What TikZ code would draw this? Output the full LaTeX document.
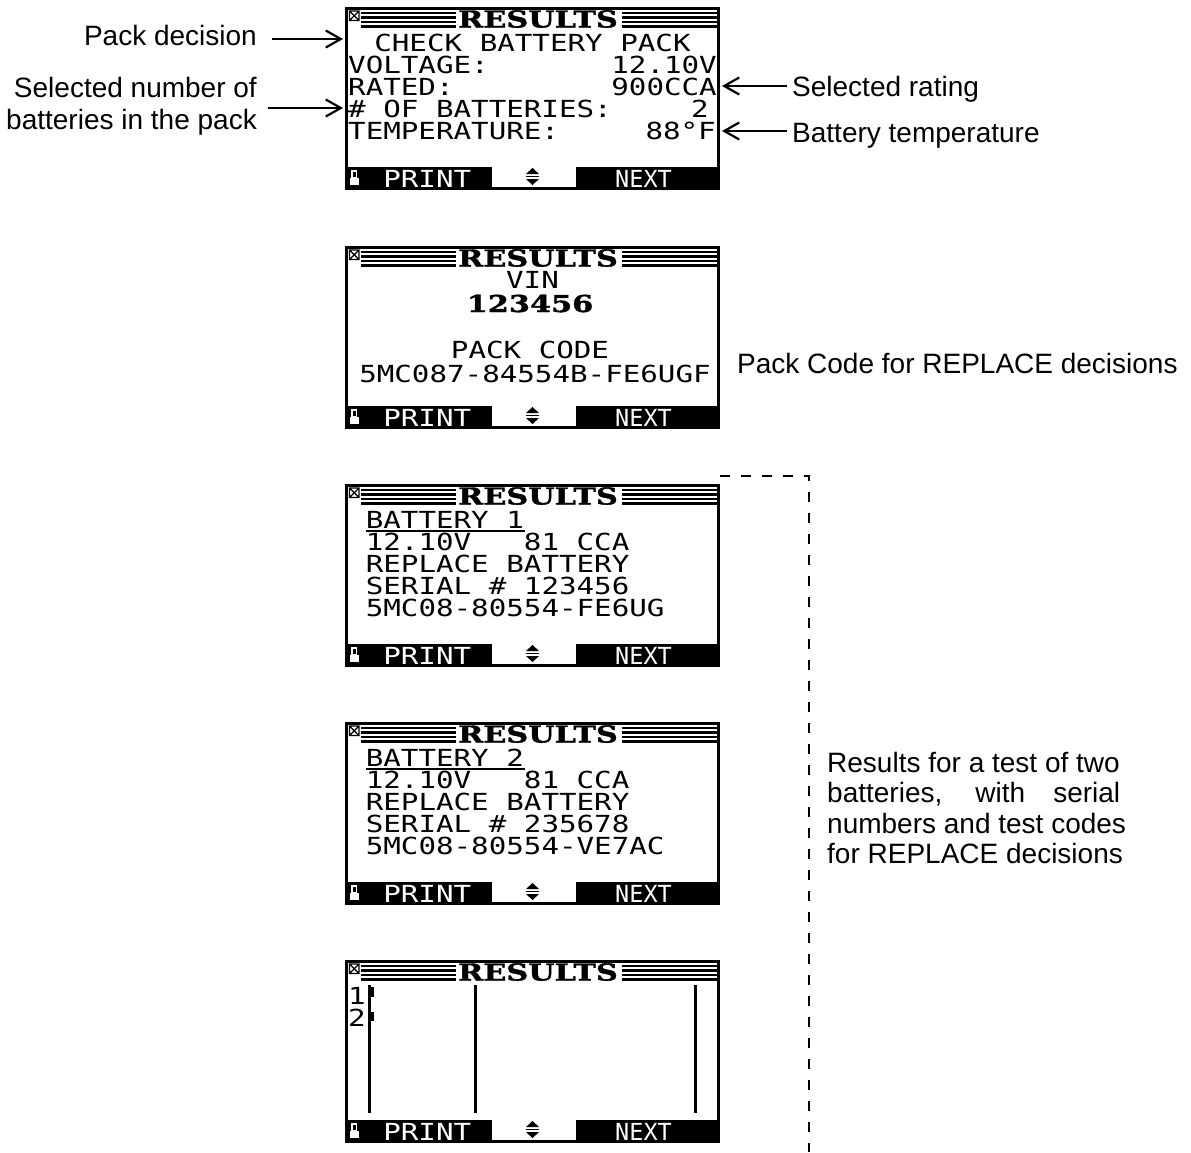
\documentclass[tikz,border=0pt]{standalone}
\usepackage{fontspec}
\setmainfont{Liberation Sans}
\newfontfamily\lcdfont[FakeStretch=1.242]{DejaVu Sans Mono}
\newfontfamily\lcdnarrow{DejaVu Sans Mono}
\newfontfamily\lcdbold[FakeStretch=1.30,FakeBold=1.6]{DejaVu Serif}
\usetikzlibrary{positioning, arrows.meta, calc}
\newcommand{\lcdtext}{\lcdfont\fontsize{23.5pt}{24pt}\selectfont}
\newcommand{\lcdkey}{\lcdnarrow\fontsize{23.5pt}{24pt}\selectfont}
\newcommand{\lcdbig}{\lcdbold\bfseries\fontsize{23.3pt}{24pt}\selectfont}
\tikzset{
    screen/.style={draw, line width=3pt, minimum width=372pt, minimum height=180pt, anchor=north west, inner sep=0pt},
    lcd/.style={font=\lcdtext, inner sep=0pt, anchor=base west},
    lcd right/.style={lcd, anchor=base east},
    lcd mid/.style={lcd, anchor=base},
    lcd title/.style={font=\lcdbig, inner sep=0pt, anchor=base},
    soft key/.style={lcd, text=white},
    stripe/.style={line width=2.4pt},
    callout text/.style={font=\fontsize{28pt}{32pt}\selectfont, inner sep=0pt},
    callout/.style={line width=2.2pt, -{Straight Barb[length=15pt, width=17pt, line width=2.2pt]}},
    bracket/.style={line width=2.5pt, dash pattern=on 10pt off 11pt}
}
\begin{document}
\begin{tikzpicture}[x=1pt, y=-1pt]
    \useasboundingbox (0,0) rectangle (1191,1152);

    % --- Screen frames, title bars and soft keys ---
    \foreach \s/\top in {1/7, 2/246, 3/484, 4/722, 5/960}{
        \node (scr\s) [screen] at (345,\top) {};
        \begin{scope}[shift={(scr\s.north west)}]
            \draw[line width=1.3pt] (4.5,4) rectangle (14,13.5) (4.5,4) -- (14,13.5) (4.5,13.5) -- (14,4);
            \foreach \y in {6,10.5,15,19.5}{
                \draw[stripe] (16,\y) -- (111,\y);
                \draw[stripe] (277,\y) -- (373,\y);
            }
            \node (res\s) [lcd title] at (193,20.5) {RESULTS};
            \fill (0,160) rectangle (147,183);
            \fill (231,160) rectangle (375,183);
            \draw[white, line width=1.4pt] (6.8,164) rectangle (11.2,170.5);
            \fill[white] (4.5,170.5) rectangle (13.5,177.5);
            \node (prt\s) [soft key] at (38.1,180) {PRINT};
            \node (nxt\s) [soft key, font=\lcdkey] at (270,180) {NEXT};
            \fill (181,167) -- (194,167) -- (187.5,161) -- cycle;
            \draw[line width=1.6pt] (181,169.5) -- (194,169.5);
            \fill (181,172) -- (194,172) -- (187.5,178) -- cycle;
        \end{scope}
    }

    % --- Screen 1: pack result ---
    \begin{scope}[shift={(scr1.north west)}]
        \node (chk) [lcd mid] at (187.5,44) {CHECK BATTERY PACK};
        \node (volt) [lcd] at (3,66) {VOLTAGE:};
        \node (voltv) [lcd right] at (372,66) {12.10V};
        \node (rated) [lcd] at (3,88) {RATED:};
        \node (ratedv) [lcd right] at (372,88) {900CCA};
        \node (nbatt) [lcd] at (3,110) {\# OF BATTERIES:};
        \node (nbattv) [lcd right] at (364,110) {2};
        \node (tmp) [lcd] at (3,132) {TEMPERATURE:};
        \node (tmpv) [lcd right] at (371,132) {88°F};
    \end{scope}

    % --- Screen 2: VIN and pack code ---
    \begin{scope}[shift={(scr2.north west)}]
        \node (vin) [lcd mid] at (187.5,42) {VIN};
        \node (vinv) [lcd title] at (185,66) {123456};
        \node (pcode) [lcd mid] at (185,112) {PACK CODE};
        \node (pcodev) [lcd mid] at (190,136) {5MC087-84554B-FE6UGF};
    \end{scope}

    % --- Screen 3: battery 1 ---
    \begin{scope}[shift={(scr3.north west)}]
        \node (bat1) [lcd] at (20.6,44) {BATTERY 1};
        \draw[line width=2pt] (20.6,46.5) -- (180,46.5);
        \node (bat1a) [lcd] at (20.6,66) {12.10V\ \ \ 81 CCA};
        \node (bat1b) [lcd] at (20.6,88) {REPLACE BATTERY};
        \node (bat1c) [lcd] at (20.6,110) {SERIAL \# 123456};
        \node (bat1d) [lcd] at (20.6,132) {5MC08-80554-FE6UG};
    \end{scope}

    % --- Screen 4: battery 2 ---
    \begin{scope}[shift={(scr4.north west)}]
        \node (bat2) [lcd] at (20.6,44) {BATTERY 2};
        \draw[line width=2pt] (20.6,46.5) -- (180,46.5);
        \node (bat2a) [lcd] at (20.6,66) {12.10V\ \ \ 81 CCA};
        \node (bat2b) [lcd] at (20.6,88) {REPLACE BATTERY};
        \node (bat2c) [lcd] at (20.6,110) {SERIAL \# 235678};
        \node (bat2d) [lcd] at (20.6,132) {5MC08-80554-VE7AC};
    \end{scope}

    % --- Screen 5: bar overview ---
    \begin{scope}[shift={(scr5.north west)}]
        \node (one) [lcd] at (3,44) {1};
        \node (two) [lcd] at (3,66) {2};
        \draw[line width=3pt] (24,25) -- (24,153) (130,25) -- (130,153) (350,25) -- (350,153);
        \fill (25.5,27) rectangle (29,37);
        \fill (25.5,52) rectangle (29,61);
    \end{scope}

    % --- Callouts ---
    \node (packdec) [callout text, anchor=east] at (257,35) {Pack decision};
    \coordinate (packtip) at (343,39);
    \draw[callout, shorten <=15pt] (packdec.east |- packtip) -- (packtip);

    \node (battnum) [callout text, anchor=north east, align=right] at (257,77) {Selected number of\\batteries in the pack};
    \coordinate (numtip) at (343,108);
    \draw[callout, shorten <=11pt] (battnum.east |- numtip) -- (numtip);

    \node (rating) [callout text, anchor=base west] at (792,96) {Selected rating};
    \coordinate (ratetip) at (722,86);
    \draw[callout, shorten <=5pt] (rating.west |- ratetip) -- (ratetip);

    \node (btemp) [callout text, anchor=base west] at (792,142) {Battery temperature};
    \coordinate (temptip) at (722,131);
    \draw[callout, shorten <=5pt] (btemp.west |- temptip) -- (temptip);

    \node (packcode) [callout text, anchor=base west] at (737,373) {Pack Code for REPLACE decisions};

    \node (twobatt) [callout text, anchor=north west, align=left, font=\fontsize{28pt}{30.3pt}\selectfont] at (827,752)
        {Results for a test of two\\ \makebox[293pt][s]{batteries, with serial}\\ numbers and test codes\\ for REPLACE decisions};

    % --- Bracket for the two battery screens ---
    \coordinate (brtop) at (809,476);
    \coordinate (brbot) at (809,1152);
    \draw[bracket] (scr3.north east |- brtop) -- (brtop) -- (brbot);
\end{tikzpicture}
\end{document}
